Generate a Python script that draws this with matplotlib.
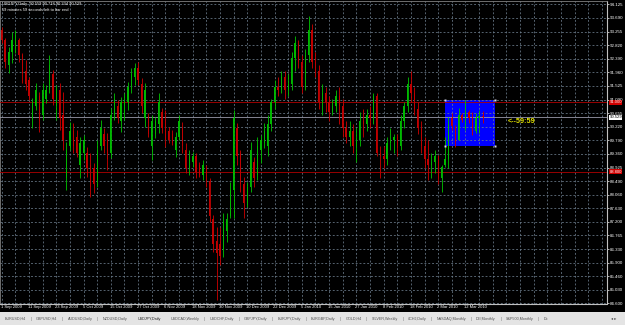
import numpy as np
import matplotlib
matplotlib.use("Agg")
import matplotlib.pyplot as plt
import matplotlib.transforms as mtransforms
from matplotlib.patches import Rectangle

plt.rcParams['font.family'] = ['Liberation Sans', 'DejaVu Sans']

# USDJPY daily bars, 1 Sep 2009 .. 19 Mar 2010
opens = [93.30, 93.00, 92.20, 92.60, 92.90, 93.00, 92.50, 92.00, 91.70, 90.50,
         90.90, 91.20, 90.60, 91.10, 91.40, 91.90, 90.90, 91.40, 90.60, 88.60,
         89.60, 90.10, 89.90, 89.00, 89.40, 89.40, 89.00, 88.90, 88.50, 89.60,
         90.00, 89.80, 89.40, 90.60, 90.90, 90.40, 90.70, 91.00, 91.50, 91.80,
         92.10, 91.60, 90.50, 90.50, 89.60, 90.00, 90.30, 90.70, 90.40, 90.10,
         90.00, 89.50, 89.90, 90.20, 89.50, 88.90, 89.10, 89.30, 89.00, 88.70,
         88.90, 88.50, 87.30, 86.60, 86.50, 86.30, 86.90, 87.40, 88.20, 90.20,
         89.40, 88.40, 87.80, 88.30, 89.10, 88.70, 89.50, 89.70, 89.60, 90.30,
         91.00, 91.50, 91.40, 91.80, 91.40, 91.60, 92.40, 92.90, 92.30, 91.50,
         92.50, 93.30, 92.30, 92.00, 91.00, 91.30, 91.00, 90.70, 90.90, 91.20,
         90.90, 90.20, 89.90, 90.10, 89.60, 89.80, 90.40, 90.30, 90.60, 90.50,
         91.20, 89.40, 89.30, 89.20, 89.70, 89.80, 89.90, 89.60, 90.40, 90.90,
         91.60, 91.30, 90.80, 90.20, 89.60, 89.20, 89.00, 89.10, 89.30, 88.60,
         89.00, 89.20, 90.50, 90.20, 89.80, 90.60, 90.45, 90.70, 90.50, 90.10,
         90.50, 90.559]
highs = [93.40, 93.05, 92.77, 93.24, 93.31, 93.05, 92.57, 92.35, 91.81, 91.14,
         91.62, 91.33, 91.62, 91.56, 92.51, 92.03, 91.56, 91.62, 91.33, 89.74,
         90.38, 90.35, 90.12, 89.90, 89.96, 89.58, 89.39, 89.07, 89.80, 90.44,
         90.19, 90.03, 90.82, 91.30, 91.08, 91.17, 91.30, 91.65, 92.10, 92.26,
         92.29, 91.78, 91.62, 90.66, 90.60, 90.54, 91.30, 90.82, 90.76, 90.22,
         90.12, 90.06, 90.60, 90.38, 89.71, 89.49, 89.42, 89.39, 89.10, 89.17,
         89.01, 88.60, 87.42, 87.02, 87.02, 87.48, 87.48, 88.47, 90.76, 90.35,
         89.49, 88.63, 88.47, 89.74, 89.26, 89.90, 89.96, 90.35, 90.60, 91.10,
         91.70, 91.80, 92.00, 92.00, 91.90, 92.60, 93.10, 93.00, 92.50, 92.70,
         93.75, 93.50, 92.60, 92.20, 91.60, 91.50, 91.20, 91.10, 91.40, 91.50,
         91.10, 90.40, 90.40, 90.30, 90.20, 90.70, 90.80, 90.80, 90.90, 91.30,
         91.30, 89.60, 89.60, 89.90, 90.20, 90.00, 90.00, 90.60, 91.00, 91.80,
         92.00, 91.50, 91.00, 90.40, 89.90, 89.80, 89.40, 89.50, 89.33, 89.00,
         89.90, 90.54, 90.66, 90.28, 90.82, 90.66, 91.08, 90.76, 90.70, 90.66,
         90.76, 90.718]
lows = [92.89, 92.10, 91.94, 92.26, 92.57, 92.29, 91.62, 91.40, 91.08, 90.19,
        90.76, 90.06, 90.44, 90.98, 91.30, 90.92, 90.44, 90.12, 89.49, 88.21,
        89.49, 89.39, 89.26, 88.60, 89.17, 88.63, 87.99, 88.12, 88.31, 89.49,
        89.39, 88.85, 89.23, 90.44, 90.35, 90.06, 90.44, 90.76, 91.30, 91.56,
        91.56, 90.66, 90.22, 89.90, 89.17, 89.87, 90.03, 90.03, 89.58, 89.71,
        89.65, 89.26, 89.80, 89.39, 88.75, 88.69, 88.95, 88.60, 88.63, 88.53,
        88.31, 87.19, 86.24, 84.71, 85.83, 86.08, 86.56, 87.32, 87.32, 89.01,
        88.15, 87.32, 87.67, 88.15, 88.31, 88.53, 89.07, 89.55, 89.30, 90.10,
        90.80, 91.20, 91.30, 91.10, 91.20, 91.40, 92.00, 92.10, 91.30, 91.40,
        92.30, 92.10, 91.80, 90.80, 90.60, 90.70, 90.40, 90.60, 90.70, 90.30,
        89.90, 89.70, 89.60, 89.40, 89.10, 89.60, 89.90, 90.10, 90.20, 90.30,
        89.30, 88.60, 88.90, 89.00, 89.50, 89.40, 89.30, 89.50, 90.20, 90.70,
        91.00, 90.60, 90.00, 89.40, 88.90, 88.53, 88.60, 88.76, 88.40, 88.15,
        88.95, 88.92, 90.12, 89.58, 89.80, 90.38, 90.12, 90.35, 89.96, 90.03,
        90.03, 90.334]
closes = [93.00, 92.30, 92.60, 93.00, 93.10, 92.50, 91.90, 91.60, 91.20, 91.00,
          91.40, 90.40, 91.40, 91.40, 92.20, 91.10, 91.40, 90.50, 89.80, 89.50,
          90.10, 89.60, 89.40, 89.70, 89.80, 88.90, 88.30, 88.40, 89.50, 90.20,
          89.60, 89.20, 90.60, 91.10, 90.50, 91.00, 91.10, 91.50, 91.90, 92.10,
          91.70, 90.90, 91.40, 90.00, 90.40, 90.40, 91.00, 90.20, 89.80, 89.80,
          89.70, 89.90, 90.40, 89.60, 88.90, 89.30, 89.30, 88.80, 88.70, 89.00,
          88.50, 87.40, 86.50, 86.20, 86.10, 87.20, 87.30, 88.20, 90.50, 89.30,
          88.40, 87.80, 88.30, 89.50, 88.60, 89.60, 89.80, 90.10, 90.30, 91.00,
          91.50, 91.40, 91.80, 91.40, 91.60, 92.40, 92.90, 92.30, 91.50, 92.50,
          93.30, 92.30, 92.00, 91.00, 91.30, 91.00, 90.70, 90.90, 91.20, 90.90,
          90.20, 89.90, 90.10, 89.60, 89.80, 90.40, 90.30, 90.60, 90.50, 91.20,
          89.40, 89.30, 89.20, 89.70, 89.80, 89.90, 89.60, 90.40, 90.90, 91.60,
          91.30, 90.80, 90.20, 89.60, 89.20, 89.00, 89.10, 89.30, 88.60, 88.95,
          89.20, 90.30, 90.25, 89.80, 90.60, 90.45, 90.70, 90.50, 90.10, 90.50,
          90.56, 90.529]

price_ticks = [94.125, 93.690, 93.255, 92.820, 92.390, 91.960, 91.525, 91.090,
               90.655, 90.220, 89.790, 89.360, 88.925, 88.490, 88.060, 87.630,
               87.200, 86.765, 86.330, 85.900, 85.460, 85.030, 84.600]
date_labels = ["1 Sep 2009", "11 Sep 2009", "23 Sep 2009", "5 Oct 2009",
               "15 Oct 2009", "27 Oct 2009", "6 Nov 2009", "18 Nov 2009",
               "30 Nov 2009", "10 Dec 2009", "22 Dec 2009", "5 Jan 2010",
               "15 Jan 2010", "27 Jan 2010", "8 Feb 2010", "18 Feb 2010",
               "2 Mar 2010", "12 Mar 2010"]
tabs = ["EURUSD,H4", "GBPUSD,H4", "AUDUSD,Daily", "NZDUSD,Daily", "USDJPY,Daily",
        "USDCAD,Weekly", "USDCHF,Daily", "GBPJPY,Daily", "EURJPY,Daily",
        "EURGBP,Daily", "GOLD,H4", "SILVER,Weekly", "#CHJ,Daily",
        "NASDAQ,Monthly", "DJI,Monthly", "S&P500,Monthly", "Dx"]
active_tab = "USDJPY,Daily"
alert_levels = [91.000, 88.800]
bid = 90.529
box_bars = (130.0, 144.7)
box_prices = (89.614, 91.08)
timer_text = "<--59:59"

W, H = 625, 325
fig = plt.figure(figsize=(W / 100, H / 100), dpi=100, facecolor='black')

ax = fig.add_axes([0, (H - 303.5) / H, 607 / W, 302.5 / H])
ax.set_facecolor('black')
ax.set_xlim(-0.5, 177.5)
ax.set_ylim(84.6, 94.23)

GREEN, RED, GRID = '#00b800', '#c00000', '#6c7c8c'

# dotted grid
for p in price_ticks:
    ax.axhline(p, color=GRID, lw=0.55, ls=(0, (2.5, 2.5)), zorder=2)
for b in range(0, 178, 4):
    ax.axvline(b, color=GRID, lw=0.55, ls=(0, (2.5, 2.5)), zorder=2)

# rectangle object (background)
ax.add_patch(Rectangle((box_bars[0], box_prices[0]), box_bars[1] - box_bars[0],
                       box_prices[1] - box_prices[0], facecolor='#0000ff',
                       edgecolor='none', zorder=1))
for bx in box_bars:
    for by in box_prices:
        ax.plot(bx, by, marker='s', ms=1.6, color='#d0d0e0', mec='none', zorder=6)

# alert lines and bid line
for lvl in alert_levels:
    ax.axhline(lvl, color='#b00000', lw=0.6, zorder=3)
ax.axhline(bid, color='#9a9aaa', lw=0.6, zorder=3)

# candles
o, hi, lo, c = map(np.array, (opens, highs, lows, closes))
x = np.arange(len(o))
cols = np.where(c >= o, GREEN, RED)
ax.vlines(x, lo, hi, colors=cols, lw=0.65, zorder=4)
body = np.maximum(np.abs(c - o), 0.02)
ax.bar(x, body, bottom=np.minimum(o, c), width=0.38, color=cols, zorder=5)

ax.text(148.5, 90.378, timer_text, color='#e0e000', fontsize=5.2,
        fontweight='bold', va='center', ha='left', zorder=7)

# spines
for s in ['left', 'top']:
    ax.spines[s].set_color('#808080')
    ax.spines[s].set_linewidth(0.6)
for s in ['right', 'bottom']:
    ax.spines[s].set_color('#c0c0c0')
    ax.spines[s].set_linewidth(0.8)

# price scale
ax.yaxis.tick_right()
ax.set_yticks(price_ticks)
ax.set_yticklabels([f"{p:.3f}" for p in price_ticks])
ax.tick_params(axis='y', colors='white', labelsize=3.2, length=1.5, width=0.5, pad=0.8)
ax.set_xticks([])

tr = mtransforms.blended_transform_factory(ax.transAxes, ax.transData)
for lvl in alert_levels:
    ax.text(1.004, lvl, f"{lvl:.3f}", transform=tr, fontsize=3.0, color='white',
            va='center', ha='left', clip_on=False, zorder=8,
            bbox=dict(facecolor='#d00000', edgecolor='none', pad=0.2))
ax.text(1.004, bid, f"{bid:.3f}", transform=tr, fontsize=3.0, color='black',
        va='center', ha='left', clip_on=False, zorder=8,
        bbox=dict(facecolor='white', edgecolor='none', pad=0.2))

# date scale
trx = mtransforms.blended_transform_factory(ax.transData, ax.transAxes)
for i, lab in enumerate(date_labels):
    ax.text(i * 8 - 0.3, -0.004, lab, transform=trx, fontsize=3.0, color='white',
            va='top', ha='left', clip_on=False)

# header
ax.text(0.004, 0.997, f"USDJPY,Daily  {opens[-1]:.3f} {highs[-1]:.3f} "
        f"{lows[-1]:.3f} {closes[-1]:.3f}", transform=ax.transAxes,
        fontsize=2.9, color='white', va='top', ha='left', zorder=8)
ax.text(0.004, 0.978, "59 minutes 59 seconds left to bar end",
        transform=ax.transAxes, fontsize=2.9, color='white', va='top',
        ha='left', zorder=8)

# tab strip
tab_ax = fig.add_axes([0, 0, 1, 13 / H])
tab_ax.set_xlim(0, W)
tab_ax.set_ylim(0, 13)
tab_ax.axis('off')
tab_ax.add_patch(Rectangle((0, 0), W, 13, facecolor='#e4e4e4', edgecolor='none'))
renderer = fig.canvas.get_renderer()
xpos = 5
for k, name in enumerate(tabs):
    t = tab_ax.text(xpos, 6.3, name, fontsize=2.7, color='#505050',
                    va='center', ha='left')
    w = t.get_window_extent(renderer).width
    if name == active_tab:
        tab_ax.add_patch(Rectangle((xpos - 4, 1), w + 8, 11, facecolor='white',
                                   edgecolor='#303030', lw=0.6, zorder=0.5))
        t.set_color('#202020')
    xpos += w
    if k < len(tabs) - 1:
        if name != active_tab and tabs[k + 1] != active_tab:
            tab_ax.text(xpos + 5, 6.3, "|", fontsize=3, color='#707070',
                        va='center', ha='center')
        xpos += 10
tab_ax.text(614, 6.3, "\u25c2 \u25b8", fontsize=3, color='#404040',
            va='center', ha='center')

fig.savefig("out.png", dpi=100, facecolor='black')
